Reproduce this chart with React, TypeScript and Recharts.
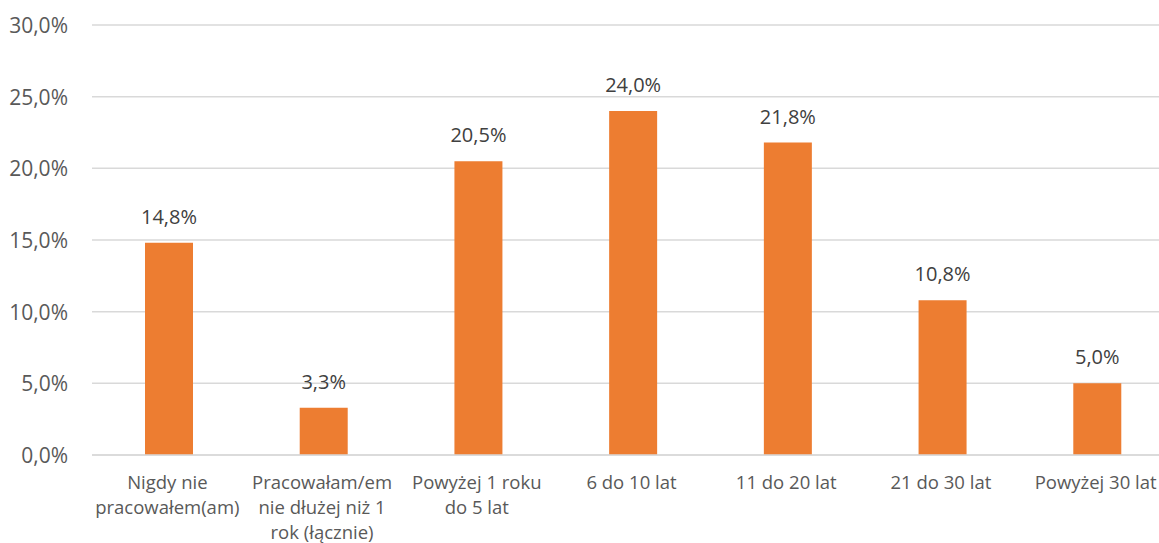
import React from "react";
import { BarChart, Bar, XAxis, YAxis, CartesianGrid, LabelList } from "recharts";

const categories = [
  "Nigdy nie|pracowałem(am)",
  "Pracowałam/em|nie dłużej niż 1|rok (łącznie)",
  "Powyżej 1 roku|do 5 lat",
  "6 do 10 lat",
  "11 do 20 lat",
  "21 do 30 lat",
  "Powyżej 30 lat",
];
const shares = [14.8, 3.3, 20.5, 24.0, 21.8, 10.8, 5.0];
const yTicks = [0, 5, 10, 15, 20, 25, 30];

const data = categories.map((c, i) => ({ name: c, value: shares[i] }));

const FONT = "'Open Sans', 'Noto Sans', sans-serif";
const pct = (v: number) => v.toFixed(1).replace(".", ",") + "%";

function XTick(props: any) {
  const { x, y, payload } = props;
  const lines = String(payload.value).split("|");
  return (
    <g>
      {lines.map((l, i) => (
        <text key={i} x={x - 2} y={y + 26 + i * 25} textAnchor="middle" fill="#595959" fontSize={18.5} fontFamily={FONT}>
          {l}
        </text>
      ))}
    </g>
  );
}

function YTick(props: any) {
  const { y, payload } = props;
  return (
    <text x={68} y={y + 8} textAnchor="end" fill="#595959" fontSize={21} fontFamily={FONT}>
      {pct(payload.value)}
    </text>
  );
}

export default function App() {
  return (
    <div style={{ position: "fixed", left: 0, top: 0, width: 1159, height: 543, overflow: "hidden", background: "#fff" }}>
      <BarChart width={1175} height={543} data={data} margin={{ top: 25, right: 0, bottom: 0, left: 0 }}>
        <CartesianGrid vertical={false} stroke="#d9d9d9" strokeWidth={1.5} />
        <XAxis
          dataKey="name"
          height={88}
          interval={0}
          tickLine={false}
          axisLine={{ stroke: "#d9d9d9", strokeWidth: 1.5 }}
          tick={<XTick />}
        />
        <YAxis
          width={92}
          domain={[0, 30]}
          ticks={yTicks}
          tickLine={false}
          axisLine={false}
          tick={<YTick />}
        />
        <Bar dataKey="value" fill="#ED7D31" barSize={48} isAnimationActive={false}>
          <LabelList
            dataKey="value"
            position="top"
            offset={19}
            formatter={(v: any) => pct(Number(v))}
            fill="#404040"
            fontSize={20}
            fontFamily={FONT}
          />
        </Bar>
      </BarChart>
    </div>
  );
}
